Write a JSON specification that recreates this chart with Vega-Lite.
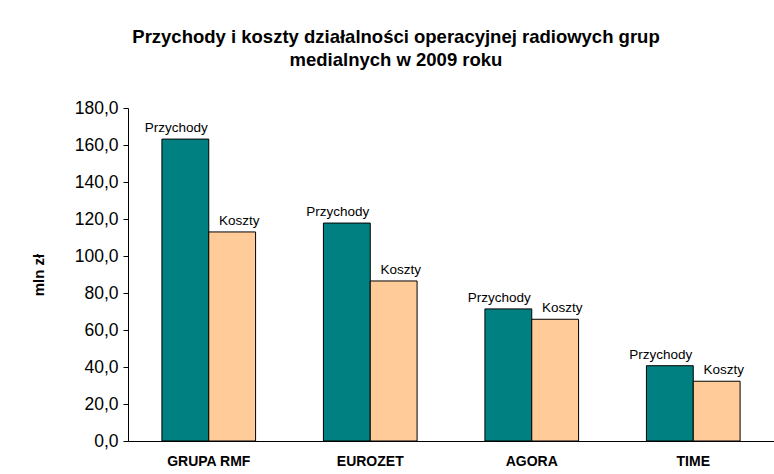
{
  "$schema": "https://vega.github.io/schema/vega-lite/v6.json",
  "autosize": {"type": "none"},
  "width": 646,
  "height": 333,
  "padding": {"left": 128, "top": 108, "right": 0, "bottom": 33},
  "background": "white",
  "config": {
    "font": "Liberation Sans",
    "view": {"stroke": null},
    "axis": {"grid": false, "domainColor": "black", "tickColor": "black", "labelColor": "black", "titleColor": "black"}
  },
  "title": {
    "text": ["Przychody i koszty działalności operacyjnej radiowych grup", "medialnych w 2009 roku"],
    "fontSize": 18.5,
    "fontWeight": "bold",
    "color": "black",
    "anchor": "middle",
    "dx": -55,
    "offset": 30,
    "lineHeight": 23
  },
  "data": {
    "values": [
      {"grupa": "GRUPA RMF", "seria": "Przychody", "wartosc": 163.2},
      {"grupa": "GRUPA RMF", "seria": "Koszty", "wartosc": 113.0},
      {"grupa": "EUROZET", "seria": "Przychody", "wartosc": 117.8},
      {"grupa": "EUROZET", "seria": "Koszty", "wartosc": 86.5},
      {"grupa": "AGORA", "seria": "Przychody", "wartosc": 71.4},
      {"grupa": "AGORA", "seria": "Koszty", "wartosc": 65.8},
      {"grupa": "TIME", "seria": "Przychody", "wartosc": 40.7},
      {"grupa": "TIME", "seria": "Koszty", "wartosc": 32.3}
    ]
  },
  "encoding": {
    "x": {
      "field": "grupa",
      "type": "nominal",
      "sort": ["GRUPA RMF", "EUROZET", "AGORA", "TIME"],
      "scale": {"paddingInner": 0.42, "paddingOuter": 0.21},
      "axis": {"title": null, "labelAngle": 0, "ticks": false, "labelFontSize": 14, "labelFontWeight": "bold", "labelPadding": 13, "domainWidth": 1}
    },
    "xOffset": {"field": "seria", "type": "nominal", "sort": ["Przychody", "Koszty"], "scale": {"paddingInner": 0, "paddingOuter": 0}},
    "y": {
      "field": "wartosc",
      "type": "quantitative",
      "scale": {"domain": [0, 180], "nice": false},
      "axis": {
        "title": "mln zł",
        "titleFontSize": 15,
        "titleFontWeight": "bold",
        "titlePadding": 28,
        "values": [0, 20, 40, 60, 80, 100, 120, 140, 160, 180],
        "labelExpr": "replace(format(datum.value, '.1f'), '.', ',')",
        "labelFontSize": 17.5,
        "labelPadding": 5,
        "tickSize": 5
      }
    }
  },
  "layer": [
    {
      "mark": {"type": "bar", "stroke": "black", "strokeWidth": 1},
      "encoding": {
        "color": {"field": "seria", "type": "nominal", "scale": {"domain": ["Przychody", "Koszty"], "range": ["#008080", "#FFCC99"]}, "legend": null}
      }
    },
    {
      "transform": [{"filter": "datum.seria === 'Przychody'"}],
      "mark": {"type": "text", "fontSize": 13.5, "dx": -9, "dy": -7, "baseline": "alphabetic", "color": "black"},
      "encoding": {"text": {"field": "seria"}}
    },
    {
      "transform": [{"filter": "datum.seria === 'Koszty'"}],
      "mark": {"type": "text", "fontSize": 13.5, "dx": 7, "dy": -7, "baseline": "alphabetic", "color": "black"},
      "encoding": {"text": {"field": "seria"}}
    }
  ]
}
